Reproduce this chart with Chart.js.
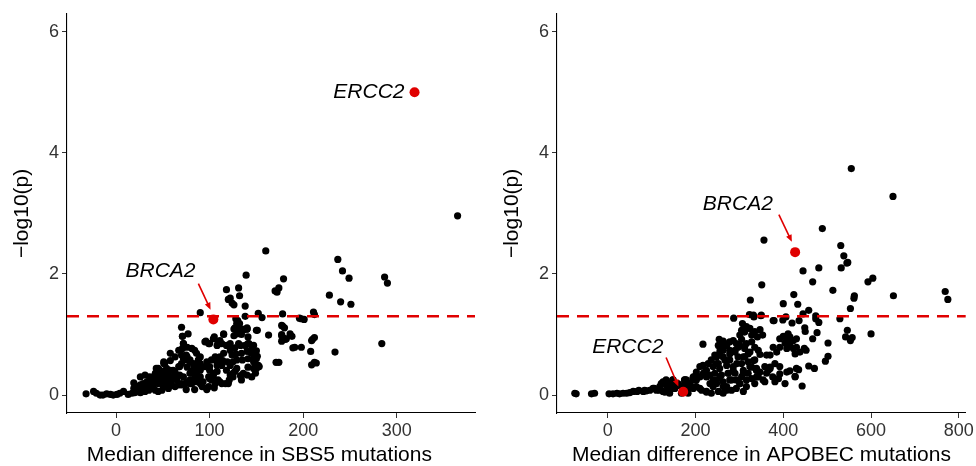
<!DOCTYPE html>
<html>
<head>
<meta charset="utf-8">
<script src="https://cdn.jsdelivr.net/npm/chart.js@4.4.1/dist/chart.umd.min.js"></script>
<style>
  body { margin: 0; background: #fff; }
  .panel { position: absolute; top: 0; width: 488px; height: 466px; }
</style>
</head>
<body>
<div class="panel" style="left:0"><canvas id="sbs5" width="488" height="466"></canvas></div>
<div class="panel" style="left:488px"><canvas id="apobec" width="488" height="466"></canvas></div>
<script>
// Significance threshold, -log10(0.05)
const threshold = 1.301;
const yTicks = [0, 2, 4, 6];

// Left panel: SBS5
const sbs5Ticks = [0, 100, 200, 300];
const sbs5Diff = [
  365, 160, 237, 242, 249, 287, 290, 228, 240, 251, 284, 234, 139, 179, 174, 170, 172, 118, 131, 132,
  120, 122, 124, 126, 138, 90, 138, 152, 156, 178, 196, 201, 198, 211, 212, 128, 129, 130, 126, 135,
  140, 151, 178, 163, 177, 186, 188, 179, 181, 177, 189, 191, 198, 210, 212, 209, 208, 212, 209, 214,
  171, 174, 130, 132, 127, 131, 136, 140, 126, 134, 141, 177, 180, 177, 182,
  115, 104, 111, 96, 100, 108, 113, 118, 122, 127, 133, 138, 142, 145, 150, 144, 140, 134, 128, 124,
  115, 111, 106, 102, 108, 114, 119, 125, 129, 135, 141, 147, 151, 153, 147, 141, 136, 133, 127, 122,
  118, 113, 108, 104, 102, 99, 97, 106, 111, 117, 121, 125, 95, 97, 90, 86, 83, 79, 76, 72,
  70, 76, 81, 86, 90, 86, 81, 76, 72, 70, 75,
  -32, -24, -21, -17, -14, -10, -6, -3, 1, 4, 8, 13, 17, 20, 19, 26, 27, 31, 35, 38,
  42, 45, 49, 52, 56, 59, 63, 67, 70, 26, 33, 38, 43, 47, 51, 54, 45, 42, 36, 29,
  22, 52, 51, 59, 63, 67, 70, 65, 68, 58, 56, 49, 26, 19, 31, 58, 70, 71, 72, 71,
  71, 72, 77, 76, 81, 84, 86, 90, 75, 76, 79, 83, 88, 90, 84, 81, 86, 90, 79, 74,
  68, 65, 61, 58, 54, 51, 47, 43, 40, 36, 33, 63, 67, 58,
  97, 105, 113, 99, 104, 109, 100, 108, 111,
  105, 109, 115, 122, 129, 131, 140, 141, 147, 150, 151, 149, 145, 140, 134, 125, 120, 129, 122, 100,
  95, 99, 149, 150, 147, 152, 150, 146,
  27, 33, 40, 45, 50, 54, 59, 63, 56, 52, 47, 42, 36, 29,
  79, 84, 92, 93, 100, 90, 84, 79
];
const sbs5LogP = [
  2.96, 2.38, 2.24, 2.05, 1.93, 1.95, 1.85, 1.65, 1.54, 1.50, 0.85, 0.71, 1.98, 1.92, 1.77, 1.72, 1.70, 1.74, 1.77, 1.64,
  1.58, 1.60, 1.52, 1.49, 1.47, 1.36, 1.30, 1.35, 1.28, 1.34, 1.27, 1.25, 1.26, 1.37, 1.33, 1.26, 1.18, 1.09, 1.09, 1.09,
  1.09, 1.07, 1.14, 0.99, 1.00, 1.01, 0.97, 0.94, 0.92, 0.89, 0.78, 0.79, 0.79, 0.92, 0.95, 0.90, 0.72, 0.54, 0.50, 0.53,
  0.54, 0.54, 1.23, 1.18, 1.11, 1.08, 1.07, 1.11, 0.98, 1.00, 0.96, 1.15, 1.11, 0.98, 0.93,
  1.00, 0.93, 0.90, 0.89, 0.85, 0.82, 0.85, 0.82, 0.74, 0.78, 0.82, 0.82, 0.85, 0.77, 0.73, 0.70, 0.72, 0.69, 0.68, 0.66,
  0.69, 0.63, 0.63, 0.58, 0.55, 0.57, 0.55, 0.55, 0.58, 0.58, 0.60, 0.61, 0.64, 0.47, 0.44, 0.46, 0.36, 0.32, 0.39, 0.33,
  0.41, 0.49, 0.39, 0.32, 0.25, 0.14, 0.09, 0.19, 0.22, 0.19, 0.25, 0.30, 0.47, 0.55, 0.52, 0.47, 0.52, 0.58, 0.63, 0.60,
  0.66, 0.46, 0.39, 0.36, 0.30, 0.22, 0.19, 0.22, 0.30, 0.17, 0.09,
  0.02, 0.06, 0.03, 0.00, 0.00, 0.02, 0.01, 0.00, 0.01, 0.03, 0.06, 0.01, 0.03, 0.04, 0.11, 0.04, 0.08, 0.06, 0.08, 0.11,
  0.08, 0.06, 0.08, 0.14, 0.11, 0.17, 0.14, 0.17, 0.19, 0.17, 0.22, 0.25, 0.27, 0.33, 0.38, 0.44, 0.44, 0.36, 0.30, 0.19,
  0.13, 0.52, 0.55, 0.30, 0.38, 0.47, 0.52, 0.25, 0.33, 0.41, 0.25, 0.22, 0.30, 0.20, 0.33, 0.69, 1.12, 0.97, 0.85, 0.77,
  0.97, 0.85, 1.01, 0.79, 0.77, 0.74, 0.69, 0.63, 0.66, 0.58, 0.55, 0.49, 0.58, 0.47, 0.41, 0.36, 0.30, 0.19, 0.25, 0.19,
  0.47, 0.33, 0.41, 0.25, 0.33, 0.52, 0.41, 0.44, 0.30, 0.25, 0.19, 0.63, 0.74, 0.57,
  0.11, 0.12, 0.19, 0.30, 0.36, 0.25, 0.47, 0.49, 0.58,
  0.96, 0.88, 1.01, 0.85, 1.01, 0.85, 1.09, 0.85, 0.82, 1.07, 0.47, 0.36, 0.30, 0.33, 0.25, 0.36, 0.19, 0.44, 0.49, 0.27,
  0.88, 0.85, 0.68, 0.60, 0.55, 0.49, 0.44, 0.74,
  0.13, 0.13, 0.17, 0.19, 0.17, 0.22, 0.22, 0.28, 0.33, 0.30, 0.25, 0.22, 0.17, 0.11,
  0.19, 0.27, 0.14, 0.22, 0.41, 0.41, 0.09, 0.36
];
const sbs5GeneDiff = [319, 104];
const sbs5GeneLogP = [5.0, 1.25];

// Right panel: APOBEC
const apobecTicks = [0, 200, 400, 600, 800];
const apobecDiff = [
  555, 650, 489, 356, 531, 538, 547, 545, 532, 481, 445, 467, 351, 593, 604, 513, 424, 562, 561, 651,
  769, 775, 325, 400, 433, 553, 458, 445, 474, 474, 350, 332, 287, 529, 377, 399, 420, 481, 546, 542,
  557, 553, 600, 450, 477, 467, 502, 502, 496, 458, 435, 471, 443, 427, 448, 452,
  323, 333, 349, 379, 406, 436, 449, 307, 316, 324, 335, 347, 353, 341, 328, 312, 305,
  301, 305, 316, 328, 335, 343, 347, 324, 312, 297, 290, 278, 271, 259, 254, 263, 278, 286, 293, 217,
  392, 400, 408, 415, 423, 430, 411, 404, 415, 423, 430, 438, 427, 408, 392, 385, 377,
  362, 370, 358, 370, 392, 392, 408, 415, 430, 427, 404, 389, 366, 376, 381, 358, 339, 347, 381, 339,
  187, 198, 206, 210, 221, 225, 233, 240, 248, 244, 240, 252, 255, 259, 263, 271, 278, 274, 271, 267,
  278, 286, 290, 293, 301, 305, 309, 305, 297, 312, 320, 324, 320, 328, 335, 343, 339, 335, 255, 263,
  248, 236, 229, 217, 202, 195, 179, 183, 202, 214, 225, 236, 252, 263, 282, 293, 316, 309, 176,
  -75, -72, -37, -30, 3, 12, 21, 27, 35, 43, 50, 58, 67, 71, 81, 88, 96, 103, 111, 119,
  122, 130, 134, 141, 149, 157, 153, 164, 176, 179, 141, 126,
  84, 106, 133, 148, 160, 175, 182, 190, 201, 194, 171, 141, 118, 148, 175,
  126, 138, 149, 157, 176, 187, 195, 202, 210, 218, 225, 233, 240, 248, 256, 263, 271, 275, 282, 286,
  294, 248, 244, 256, 267, 252, 263, 278, 290, 301, 309, 320, 332, 328, 339, 354, 362, 370, 309, 301,
  316, 210, 225, 183, 168, 141, 130, 119
];
const apobecLogP = [
  3.74, 3.28, 2.75, 2.56, 2.47, 2.30, 2.19, 2.18, 2.10, 2.10, 2.05, 1.87, 1.82, 1.87, 1.93, 1.73, 1.66, 1.64, 1.60, 1.64,
  1.71, 1.58, 1.57, 1.51, 1.50, 1.43, 1.40, 1.34, 1.31, 1.26, 1.32, 1.32, 1.27, 1.26, 1.23, 1.24, 1.19, 1.20, 1.07, 0.96,
  0.95, 0.90, 1.01, 1.05, 1.03, 0.93, 0.86, 0.64, 0.56, 0.48, 0.42, 0.44, 0.15, 0.31, 0.77, 0.74,
  1.33, 1.29, 1.31, 1.23, 1.29, 1.23, 1.11, 1.18, 1.13, 1.10, 1.05, 1.08, 0.99, 0.96, 0.99, 1.04, 1.07,
  0.99, 0.92, 0.85, 0.88, 0.79, 0.74, 0.67, 0.71, 0.77, 0.79, 0.71, 0.74, 0.82, 0.85, 0.92, 0.89, 0.88, 0.90, 0.85, 0.84,
  0.93, 0.97, 0.91, 0.96, 0.90, 0.93, 1.01, 0.86, 0.82, 0.77, 0.79, 0.71, 0.68, 0.77, 0.79, 0.71, 0.79,
  0.66, 0.66, 0.47, 0.44, 0.47, 0.35, 0.38, 0.40, 0.44, 0.30, 0.19, 0.27, 0.41, 0.30, 0.22, 0.22, 0.30, 0.38, 0.52, 0.44,
  0.17, 0.25, 0.30, 0.47, 0.38, 0.30, 0.19, 0.14, 0.25, 0.36, 0.47, 0.52, 0.44, 0.33, 0.22, 0.14, 0.25, 0.36, 0.49, 0.58,
  0.58, 0.47, 0.36, 0.25, 0.19, 0.30, 0.41, 0.52, 0.63, 0.63, 0.55, 0.47, 0.36, 0.27, 0.19, 0.30, 0.41, 0.58, 0.69, 0.74,
  0.63, 0.58, 0.52, 0.49, 0.38, 0.30, 0.25, 0.11, 0.14, 0.08, 0.06, 0.03, 0.06, 0.03, 0.08, 0.11, 0.14, 0.06, 0.14,
  0.03, 0.02, 0.02, 0.03, 0.02, 0.02, 0.03, 0.02, 0.03, 0.03, 0.04, 0.06, 0.06, 0.08, 0.06, 0.07, 0.08, 0.11, 0.08, 0.14,
  0.19, 0.22, 0.16, 0.19, 0.22, 0.19, 0.11, 0.16, 0.22, 0.14, 0.06, 0.06,
  0.08, 0.11, 0.25, 0.25, 0.19, 0.25, 0.19, 0.14, 0.33, 0.27, 0.14, 0.14, 0.08, 0.11, 0.08,
  0.22, 0.19, 0.25, 0.16, 0.25, 0.19, 0.11, 0.25, 0.30, 0.36, 0.41, 0.33, 0.25, 0.19, 0.30, 0.14, 0.08, 0.36, 0.25, 0.41,
  0.52, 0.52, 0.66, 0.74, 0.85, 0.82, 0.63, 0.68, 0.74, 0.82, 0.63, 0.68, 0.57, 0.46, 0.41, 0.25, 0.36, 0.46, 0.36, 0.19,
  0.25, 0.11, 0.05, 0.03, 0.03, 0.03, 0.05, 0.14
];
const apobecGeneDiff = [172, 427];
const apobecGeneLogP = [0.055, 2.36];

const geneNames = ['ERCC2', 'BRCA2'];

Chart.defaults.font.family = '"Liberation Sans", Arial, sans-serif';
Chart.defaults.color = '#333';

// Draw the gene names and red arrows
const geneLabels = {
  id: 'geneLabels',
  afterDatasetsDraw(chart, args, opts) {
    const { ctx, scales: { x, y } } = chart;
    ctx.save();
    ctx.font = 'italic 21px "Liberation Sans", Arial, sans-serif';
    ctx.textBaseline = 'middle';
    opts.items.forEach((it) => {
      ctx.fillStyle = '#000';
      ctx.textAlign = it.align;
      ctx.fillText(it.text, x.getPixelForValue(it.tx) + it.dx, y.getPixelForValue(it.ty));
      if (!it.arrow) return;
      const x0 = x.getPixelForValue(it.arrow[0]), y0 = y.getPixelForValue(it.arrow[1]);
      const x1 = x.getPixelForValue(it.arrow[2]), y1 = y.getPixelForValue(it.arrow[3]);
      const ang = Math.atan2(y1 - y0, x1 - x0);
      ctx.strokeStyle = '#e00000';
      ctx.fillStyle = '#e00000';
      ctx.lineWidth = 1.6;
      ctx.beginPath();
      ctx.moveTo(x0, y0);
      ctx.lineTo(x1 - 5 * Math.cos(ang), y1 - 5 * Math.sin(ang));
      ctx.stroke();
      ctx.beginPath();
      ctx.moveTo(x1, y1);
      ctx.lineTo(x1 - 7 * Math.cos(ang) + 3 * Math.sin(ang), y1 - 7 * Math.sin(ang) - 3 * Math.cos(ang));
      ctx.lineTo(x1 - 7 * Math.cos(ang) - 3 * Math.sin(ang), y1 - 7 * Math.sin(ang) + 3 * Math.cos(ang));
      ctx.closePath();
      ctx.fill();
    });
    ctx.restore();
  }
};

function makePanel(id, diff, logp, geneDiff, geneLogP, xMin, xMax, xTicks, xTitle, yWidth, padRight, labels) {
  const points = diff.map((d, i) => ({ x: d, y: logp[i] }));
  const genes = geneDiff.map((d, i) => ({ x: d, y: geneLogP[i] }));
  return new Chart(document.getElementById(id), {
    type: 'scatter',
    data: {
      datasets: [
        { data: genes, pointRadius: 5, backgroundColor: '#e00000', borderWidth: 0 },
        {
          data: [{ x: xMin, y: threshold }, { x: xMax, y: threshold }],
          showLine: true, pointRadius: 0, borderColor: '#e00000', borderWidth: 2.6, borderDash: [12, 8]
        },
        { data: points, pointRadius: 3.6, backgroundColor: '#000', borderWidth: 0 }
      ]
    },
    options: {
      responsive: false,
      animation: false,
      events: [],
      layout: { padding: { left: 0, right: padRight, top: 12, bottom: 0 } },
      plugins: {
        legend: { display: false },
        tooltip: { enabled: false },
        geneLabels: { items: labels }
      },
      scales: {
        x: {
          type: 'linear',
          min: xMin,
          max: xMax,
          afterBuildTicks: (s) => { s.ticks = xTicks.map((v) => ({ value: v })); },
          afterFit: (s) => { s.height = 53; },
          grid: { drawOnChartArea: false, tickLength: 5, color: '#333' },
          border: { color: '#000', width: 1.1 },
          ticks: { font: { size: 18 }, color: '#333', padding: 2 },
          title: {
            display: true, text: xTitle, color: '#000',
            font: { size: 21, lineHeight: 1 }, padding: { top: 0, bottom: 0 }
          }
        },
        y: {
          type: 'linear',
          min: -0.296,
          max: 6.296,
          afterBuildTicks: (s) => { s.ticks = yTicks.map((v) => ({ value: v })); },
          afterFit: (s) => { s.width = yWidth; },
          grid: { drawOnChartArea: false, tickLength: 5, color: '#333' },
          border: { color: '#000', width: 1.1 },
          ticks: { font: { size: 18 }, color: '#333', padding: 3 },
          title: {
            display: true, text: '\u2212log10(p)', color: '#000',
            font: { size: 21, lineHeight: 1 }, padding: { top: yWidth - 55, bottom: 0 }
          }
        }
      }
    },
    plugins: [geneLabels]
  });
}

// trailing spaces nudge the left title a bit left, like the original
makePanel('sbs5', sbs5Diff, sbs5LogP, sbs5GeneDiff, sbs5GeneLogP, -52.4, 383.6, sbs5Ticks,
  'Median difference in SBS5 mutations    ', 67, 13, [
    { text: geneNames[0], tx: sbs5GeneDiff[0], ty: sbs5GeneLogP[0], dx: -10, align: 'right' },
    { text: geneNames[1], tx: 47.5, ty: 2.05, dx: 0, align: 'center', arrow: [88, 1.84, 101, 1.41] }
  ]);

makePanel('apobec', apobecDiff, apobecLogP, apobecGeneDiff, apobecGeneLogP, -115.6, 816, apobecTicks,
  'Median difference in APOBEC mutations', 69, 10, [
    { text: geneNames[0], tx: 45.6, ty: 0.79, dx: 0, align: 'center', arrow: [133, 0.62, 161, 0.14] },
    { text: geneNames[1], tx: 296.5, ty: 3.15, dx: 0, align: 'center', arrow: [390, 2.98, 419.6, 2.53] }
  ]);
</script>
</body>
</html>
